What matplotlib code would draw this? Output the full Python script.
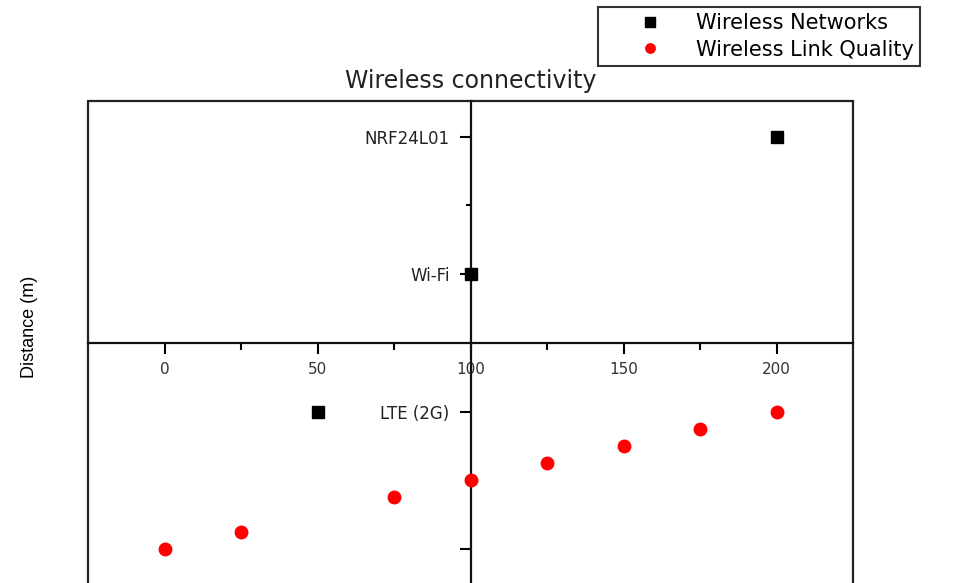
import matplotlib
matplotlib.use('Agg')
import matplotlib.pyplot as plt
from matplotlib.ticker import FixedLocator

# networks (black squares) - y value is just the row of the tick label
network_names = ['LTE (2G)', 'Wi-Fi', 'NRF24L01']
network_x = [50, 100, 200]
network_y = [1, 2, 3]

# link quality (red dots)
quality_x = [0, 25, 75, 100, 125, 150, 175, 200]
quality_y = [0, 0.125, 0.375, 0.5, 0.625, 0.75, 0.875, 1.0]

x_ticks = [0, 50, 100, 150, 200]
x_minor = [25, 75, 125, 175]
y_ticks = [0, 1, 2, 3]
y_minor = [0.5, 2.5]
y_tick_labels = [''] + network_names

plt.rcParams['font.family'] = ['DejaVu Sans']

fig = plt.figure(figsize=(9.76, 5.83), dpi=100)
ax = fig.add_axes([0.0902, -0.0101, 0.7838, 0.8369])

ax.plot(network_x, network_y, 's', color='black', markersize=9,
        label='Wireless Networks', zorder=5, clip_on=False)
ax.plot(quality_x, quality_y, 'o', color='#ff0000', markersize=9,
        label='Wireless Link Quality', zorder=5, clip_on=False)

ax.set_xlim(-25, 225)
ax.set_ylim(-0.29, 3.26)

# origin style: axes cross in the middle, box around everything
ax.patch.set_edgecolor('#222222')
ax.patch.set_linewidth(1.6)
ax.spines['top'].set_visible(False)
ax.spines['right'].set_visible(False)
ax.spines['left'].set_position(('data', 100))
ax.spines['bottom'].set_position(('data', 1.5))
for s in ('left', 'bottom'):
    ax.spines[s].set_linewidth(1.6)
    ax.spines[s].set_color('#111111')
    ax.spines[s].set_zorder(3)

ax.xaxis.set_major_locator(FixedLocator(x_ticks))
ax.xaxis.set_minor_locator(FixedLocator(x_minor))
ax.yaxis.set_major_locator(FixedLocator(y_ticks))
ax.yaxis.set_minor_locator(FixedLocator(y_minor))
ax.set_xticklabels([str(v) for v in x_ticks])
ax.set_yticklabels(y_tick_labels)

ax.tick_params(axis='x', which='major', direction='out', length=8, width=1.5,
               pad=6, labelsize=11, labelcolor='#333333')
ax.tick_params(axis='x', which='minor', direction='out', length=5, width=1.5)
ax.tick_params(axis='y', which='major', direction='out', length=8, width=1.5,
               pad=7, labelsize=12, labelcolor='#222222')
ax.tick_params(axis='y', which='minor', direction='out', length=3.5, width=1.5)

ax.set_title('Wireless connectivity', fontsize=17, pad=9, color='#222222')
ax.set_ylabel('Distance (m)', fontsize=13, family=['Liberation Sans'])
ax.yaxis.set_label_coords(-0.065, 0.537)

leg = fig.legend(loc='upper left', bbox_to_anchor=(598 / 976, 1 - 7 / 583),
                 fancybox=False, edgecolor='black', fontsize=15,
                 handlelength=4.4, handletextpad=0, borderpad=0.3,
                 labelspacing=0.3, markerscale=0.75, borderaxespad=0)
leg.get_frame().set_linewidth(1.5)

fig.savefig('out.png', dpi=100)
